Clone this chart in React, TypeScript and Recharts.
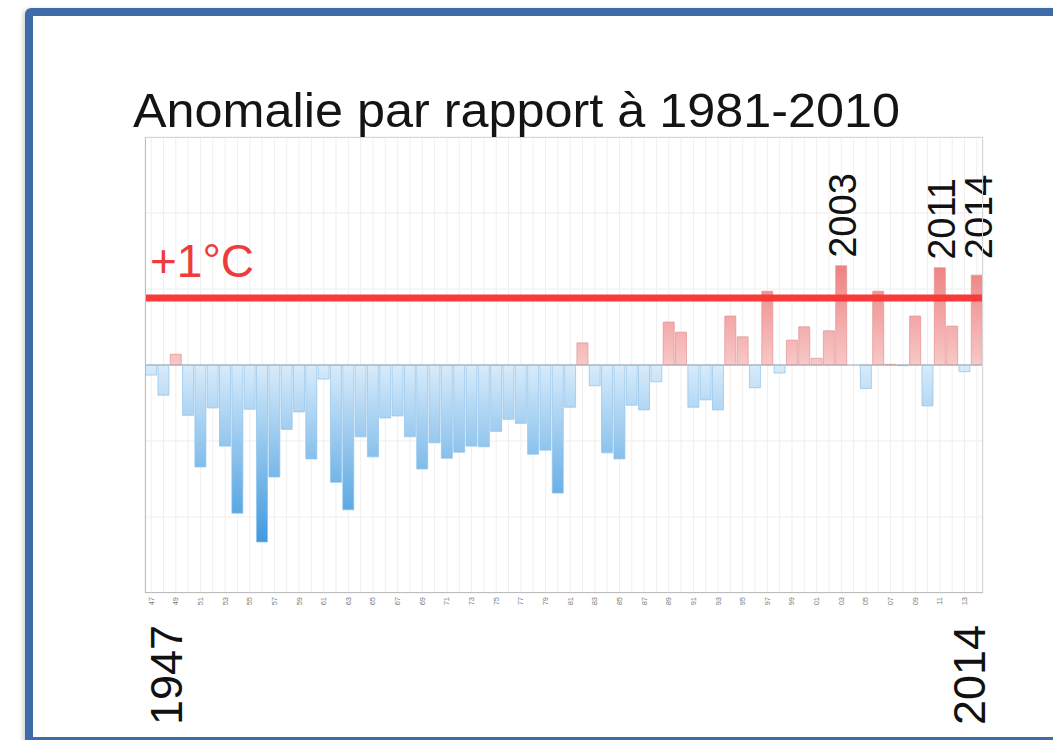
import React from "react";
import { BarChart, Bar, XAxis, YAxis, CartesianGrid, ReferenceLine, Cell, LabelList } from "recharts";

// Années 1947-2014
const years = [
  1947, 1948, 1949, 1950, 1951, 1952, 1953, 1954, 1955, 1956,
  1957, 1958, 1959, 1960, 1961, 1962, 1963, 1964, 1965, 1966,
  1967, 1968, 1969, 1970, 1971, 1972, 1973, 1974, 1975, 1976,
  1977, 1978, 1979, 1980, 1981, 1982, 1983, 1984, 1985, 1986,
  1987, 1988, 1989, 1990, 1991, 1992, 1993, 1994, 1995, 1996,
  1997, 1998, 1999, 2000, 2001, 2002, 2003, 2004, 2005, 2006,
  2007, 2008, 2009, 2010, 2011, 2012, 2013, 2014,
];

// Anomalie (°C) par rapport à 1981-2010
const anomalies = [
  -0.15, -0.45, 0.16, -0.75, -1.52, -0.64, -1.21, -2.21, -0.66, -2.64,
  -1.67, -0.96, -0.7, -1.4, -0.21, -1.75, -2.16, -1.07, -1.37, -0.79,
  -0.76, -1.07, -1.55, -1.16, -1.39, -1.3, -1.21, -1.22, -0.99, -0.81,
  -0.87, -1.33, -1.27, -1.91, -0.63, 0.33, -0.31, -1.31, -1.4, -0.6,
  -0.67, -0.25, 0.64, 0.49, -0.63, -0.52, -0.67, 0.73, 0.42, -0.34,
  1.1, -0.12, 0.37, 0.57, 0.1, 0.51, 1.48, 0.0, -0.35, 1.1,
  0.01, -0.01, 0.73, -0.61, 1.45, 0.58, -0.1, 1.34,
];

const yDomain = [-3.4, 3.4];
const yGrid = [-3.4, -2.267, -1.133, 0, 1.133, 2.267, 3.4];
const seuil = 1;
const seuilLabel = "+1°C";
const title = "Anomalie par rapport à 1981-2010";
const topLabels = [
  { year: 2003, dy: 8 },
  { year: 2011, dy: 8 },
  { year: 2014, dy: 16 },
];
const bottomLabels = [
  { year: 1947, dx: 31 },
  { year: 2014, dx: 8.5 },
];

const data = years.map((year, i) => ({ year, value: anomalies[i] }));

const FONT = "'Liberation Sans', Arial, sans-serif";
const PLOT = { left: 145, top: 137, right: 983, bottom: 593 };

function YearTick(props: any) {
  const { x, payload } = props;
  const year = payload.value as number;
  const i = years.indexOf(year);
  const big = bottomLabels.find((b) => b.year === year);
  const sy = PLOT.bottom + 4;
  return (
    <g>
      {i % 2 === 0 && (
        <text
          x={x + 2.5}
          y={sy}
          transform={`rotate(-90 ${x + 2.5} ${sy})`}
          textAnchor="end"
          fontSize={7.5}
          fill="#7a7a7a"
          fontFamily={FONT}
        >
          {String(year).slice(2)}
        </text>
      )}
      {big && (
        <text
          x={x + big.dx}
          y={625}
          transform={`rotate(-90 ${x + big.dx} 625)`}
          textAnchor="end"
          fontSize={45}
          fill="#111"
          fontFamily={FONT}
        >
          {year}
        </text>
      )}
    </g>
  );
}

function TopLabel(props: any) {
  const { x, y, width, value } = props;
  const h = topLabels.find((t) => t.year === value);
  if (!h) return null;
  const bx = x + width / 2 + 15;
  const by = y - h.dy;
  return (
    <text
      x={bx}
      y={by}
      transform={`rotate(-90 ${bx} ${by})`}
      textAnchor="start"
      fontSize={38}
      fill="#111"
      fontFamily={FONT}
    >
      {value}
    </text>
  );
}

export default function App() {
  return (
    <div
      style={{
        position: "fixed",
        left: 0,
        top: 0,
        width: 1053,
        height: 740,
        overflow: "hidden",
        background: "#fff",
      }}
    >
      <div
        style={{
          position: "absolute",
          left: 25,
          top: 8,
          width: 1100,
          height: 737,
          boxSizing: "border-box",
          border: "8px solid #3e6ca9",
          borderRadius: 6,
          boxShadow: "-2px 1px 4px rgba(0,0,0,0.18)",
        }}
      />
      <BarChart
        width={1053}
        height={740}
        data={data}
        margin={{ top: PLOT.top, right: 1053 - PLOT.right, bottom: 7, left: PLOT.left }}
        barCategoryGap={0.6}
        style={{ position: "absolute", left: 0, top: 0 }}
      >
        <defs>
          <linearGradient id="neg" gradientUnits="userSpaceOnUse" x1="0" y1="365" x2="0" y2="548">
            <stop offset="0" stopColor="#d8ebfa" />
            <stop offset="1" stopColor="#3b97de" />
          </linearGradient>
          <linearGradient id="pos" gradientUnits="userSpaceOnUse" x1="0" y1="365" x2="0" y2="262">
            <stop offset="0" stopColor="#f8c8c8" />
            <stop offset="1" stopColor="#ed7f7f" />
          </linearGradient>
        </defs>
        <CartesianGrid stroke="#efefef" strokeWidth={1} />
        <XAxis
          dataKey="year"
          interval={0}
          height={140}
          axisLine={false}
          tickLine={false}
          tickSize={0}
          tickMargin={0}
          tick={<YearTick />}
        />
        <YAxis hide domain={yDomain} ticks={yGrid} type="number" allowDataOverflow />
        <Bar dataKey="value" isAnimationActive={false} strokeWidth={0.7}>
          {data.map((d) => (
            <Cell
              key={d.year}
              fill={d.value >= 0 ? "url(#pos)" : "url(#neg)"}
              stroke={d.value >= 0 ? "#e49090" : "#8fc2ea"}
            />
          ))}
          <LabelList dataKey="year" content={<TopLabel />} />
        </Bar>
        <ReferenceLine y={0} stroke="#a3a9b0" strokeWidth={1} />
        <ReferenceLine
          y={seuil}
          stroke="#f83a3a"
          strokeWidth={7}
          label={(p: any) => (
            <text
              x={p.viewBox.x + 5}
              y={p.viewBox.y - 21}
              fontSize={46}
              fill="#ee3b3b"
              fontFamily={FONT}
            >
              {seuilLabel}
            </text>
          )}
        />
      </BarChart>
      <div
        style={{
          position: "absolute",
          left: PLOT.left,
          top: PLOT.top,
          width: PLOT.right - PLOT.left,
          height: PLOT.bottom - PLOT.top,
          boxSizing: "border-box",
          border: "1px solid #d6d6d6",
          borderLeft: "1px solid #bdbdbd",
          borderBottom: "1px solid #bdbdbd",
          pointerEvents: "none",
        }}
      />
      <svg width={1053} height={140} style={{ position: "absolute", left: 0, top: 0 }}>
        <text
          x={133}
          y={127}
          fontSize={48}
          fill="#141414"
          fontFamily={FONT}
          textLength={767}
          lengthAdjust="spacingAndGlyphs"
        >
          {title}
        </text>
      </svg>
    </div>
  );
}
